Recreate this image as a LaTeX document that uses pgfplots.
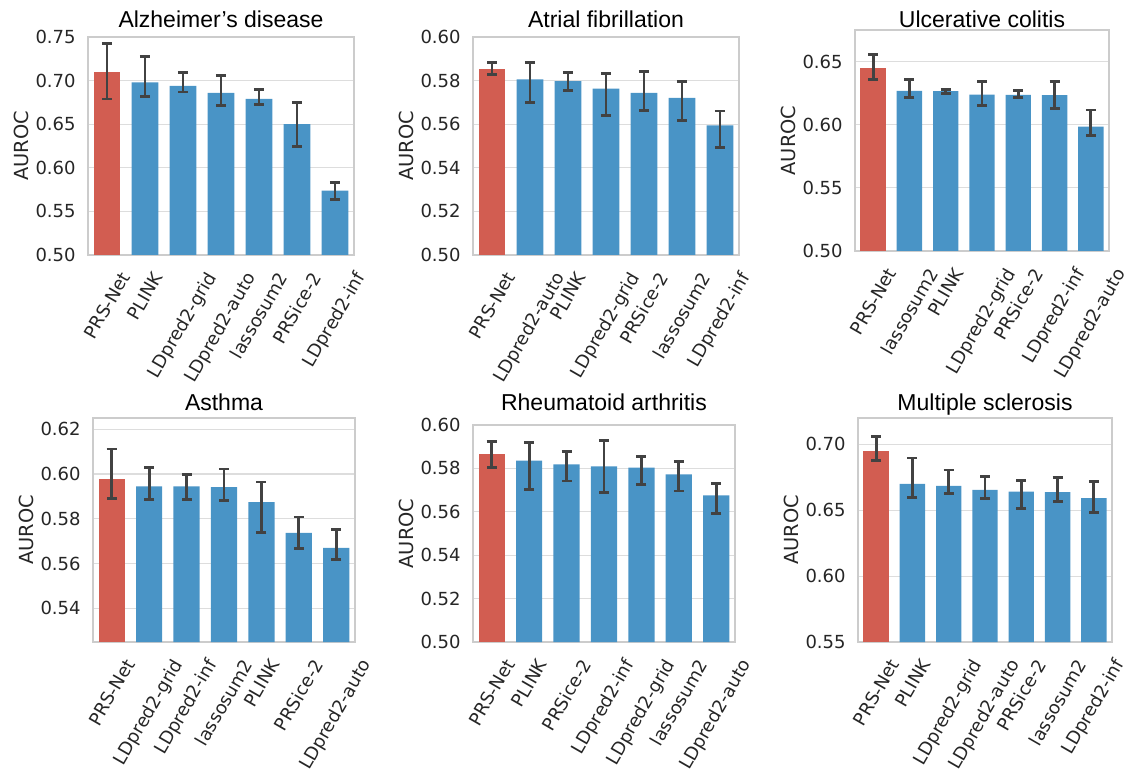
\documentclass[border=0pt]{standalone}
\usepackage{fontspec}
\setmainfont{DejaVu Sans}
\newfontfamily\titlefont{Liberation Sans}
\usepackage{graphicx}
\usepackage{pgfplots}
\usepackage{pgfplotstable}
\pgfplotsset{compat=1.18}
\definecolor{prsred}{RGB}{210,93,81}
\definecolor{prsblue}{RGB}{73,148,198}
\definecolor{errgray}{RGB}{66,66,66}
\definecolor{gridgray}{RGB}{221,221,221}
\definecolor{framegray}{RGB}{204,204,204}
\definecolor{txt}{RGB}{38,38,38}
\newcommand\rl[1]{\rotatebox{60}{#1}}

% x  y  error+  error-
\pgfplotstableread{
x y ep em
0 0.7100 0.0330 0.0310
1 0.6980 0.0300 0.0160
2 0.6940 0.0155 0.0070
3 0.6860 0.0200 0.0150
4 0.6790 0.0110 0.0060
5 0.6500 0.0250 0.0260
6 0.5737 0.0099 0.0097
}\tabAD
\pgfplotstableread{
x y ep em
0 0.5855 0.0027 0.0028
1 0.5806 0.0076 0.0107
2 0.5798 0.0040 0.0042
3 0.5763 0.0071 0.0123
4 0.5744 0.0097 0.0083
5 0.5721 0.0076 0.0103
6 0.5595 0.0066 0.0103
}\tabAF
\pgfplotstableread{
x y ep em
0 0.6453 0.0102 0.0095
1 0.6268 0.0090 0.0055
2 0.6266 0.0016 0.0019
3 0.6239 0.0103 0.0084
4 0.6237 0.0034 0.0021
5 0.6234 0.0111 0.0105
6 0.5984 0.0132 0.0068
}\tabUC
\pgfplotstableread{
x y ep em
0 0.5979 0.0133 0.0090
1 0.5945 0.0083 0.0058
2 0.5945 0.0051 0.0059
3 0.5941 0.0081 0.0059
4 0.5875 0.0089 0.0136
5 0.5737 0.0071 0.0070
6 0.5670 0.0082 0.0050
}\tabAS
\pgfplotstableread{
x y ep em
0 0.5868 0.0055 0.0064
1 0.5836 0.0083 0.0134
2 0.5819 0.0058 0.0077
3 0.5809 0.0119 0.0120
4 0.5804 0.0052 0.0077
5 0.5773 0.0058 0.0077
6 0.5676 0.0054 0.0084
}\tabRA
\pgfplotstableread{
x y ep em
0 0.6950 0.0108 0.0071
1 0.6700 0.0197 0.0101
2 0.6685 0.0121 0.0056
3 0.6655 0.0101 0.0068
4 0.6642 0.0083 0.0126
5 0.6637 0.0109 0.0068
6 0.6592 0.0126 0.0109
}\tabMS

\pgfplotsset{
  panel/.style={
    scale only axis, anchor=south west,
    xmin=-0.5, xmax=6.5, xtick={0,...,6},
    ymajorgrids, major grid style={draw=gridgray, line width=0.55pt},
    axis line style={draw=framegray, line width=0.6pt},
    major tick length=0pt,
    tick label style={font=\fontsize{9}{10}\selectfont, text=txt},
    xticklabel style={anchor=north, inner sep=0pt, yshift=-7.5pt},
    yticklabel style={anchor=east, inner sep=0pt, xshift=-6pt},
    scaled y ticks=false,
    /pgf/number format/fixed, /pgf/number format/fixed zerofill,
    /pgf/number format/precision=2, /pgf/number format/assume math mode=true,
    ylabel=AUROC, ylabel style={font=\fontsize{9.7}{11}\selectfont, text=txt},
    every axis title shift=0pt,
    title style={font=\titlefont\fontsize{11.5}{13}\selectfont, anchor=base, inner sep=0pt},
  },
  barbase/.style={ybar, bar width=0.7, bar shift=0pt, draw=none,
    error bars/y dir=both, error bars/y explicit,
    error bars/error bar style={line width=1.4pt, draw=errgray},
    error bars/error mark options={rotate=90, mark size=2.5pt, line width=1.4pt, draw=errgray}},
  redbar/.style={barbase, fill=prsred, restrict x to domain=-0.5:0.5},
  bluebar/.style={barbase, fill=prsblue, restrict x to domain=0.5:6.5},
}

\begin{document}
\begin{tikzpicture}
\useasboundingbox (0,0) rectangle (563pt,386pt);

% Alzheimer's disease
\begin{axis}[panel, at={(44pt,258.5pt)}, width=133pt, height=109pt,
  ymin=0.5, ymax=0.75, ytick={0.5,0.55,...,0.76},
  title={Alzheimer’s disease}, title style={yshift=4.85pt},
  xticklabels={\rl{PRS-Net},\rl{PLINK},\rl{LDpred2-grid},\rl{LDpred2-auto},\rl{lassosum2},\rl{PRSice-2},\rl{LDpred2-inf}}]
\addplot[redbar] table[x=x, y=y, y error plus=ep, y error minus=em] {\tabAD};
\addplot[bluebar] table[x=x, y=y, y error plus=ep, y error minus=em] {\tabAD};
\end{axis}

% Atrial fibrillation
\begin{axis}[panel, at={(236.5pt,258.5pt)}, width=133pt, height=109pt,
  ymin=0.5, ymax=0.6, ytick={0.5,0.52,0.54,0.56,0.58,0.6},
  title={Atrial fibrillation}, title style={yshift=4.85pt},
  xticklabels={\rl{PRS-Net},\rl{LDpred2-auto},\rl{PLINK},\rl{LDpred2-grid},\rl{PRSice-2},\rl{lassosum2},\rl{LDpred2-inf}}]
\addplot[redbar] table[x=x, y=y, y error plus=ep, y error minus=em] {\tabAF};
\addplot[bluebar] table[x=x, y=y, y error plus=ep, y error minus=em] {\tabAF};
\end{axis}

% Ulcerative colitis
\begin{axis}[panel, at={(427.5pt,260.5pt)}, width=127pt, height=110.5pt,
  ymin=0.5, ymax=0.675, ytick={0.5,0.55,0.6,0.65},
  title={Ulcerative colitis}, title style={yshift=1.35pt},
  xticklabels={\rl{PRS-Net},\rl{lassosum2},\rl{PLINK},\rl{LDpred2-grid},\rl{PRSice-2},\rl{LDpred2-inf},\rl{LDpred2-auto}}]
\addplot[redbar] table[x=x, y=y, y error plus=ep, y error minus=em] {\tabUC};
\addplot[bluebar] table[x=x, y=y, y error plus=ep, y error minus=em] {\tabUC};
\end{axis}

% Asthma
\begin{axis}[panel, at={(46.5pt,65pt)}, width=131pt, height=112pt,
  ymin=0.525, ymax=0.625, ytick={0.54,0.56,0.58,0.6,0.62},
  title={Asthma}, title style={yshift=3.65pt},
  xticklabels={\rl{PRS-Net},\rl{LDpred2-grid},\rl{LDpred2-inf},\rl{lassosum2},\rl{PLINK},\rl{PRSice-2},\rl{LDpred2-auto}}]
\addplot[redbar] table[x=x, y=y, y error plus=ep, y error minus=em] {\tabAS};
\addplot[bluebar] table[x=x, y=y, y error plus=ep, y error minus=em] {\tabAS};
\end{axis}

% Rheumatoid arthritis
\begin{axis}[panel, at={(236.5pt,65pt)}, width=131pt, height=108.5pt,
  ymin=0.5, ymax=0.6, ytick={0.5,0.52,0.54,0.56,0.58,0.6},
  title={Rheumatoid arthritis}, title style={yshift=7.15pt},
  xticklabels={\rl{PRS-Net},\rl{PLINK},\rl{PRSice-2},\rl{LDpred2-inf},\rl{LDpred2-grid},\rl{lassosum2},\rl{LDpred2-auto}}]
\addplot[redbar] table[x=x, y=y, y error plus=ep, y error minus=em] {\tabRA};
\addplot[bluebar] table[x=x, y=y, y error plus=ep, y error minus=em] {\tabRA};
\end{axis}

% Multiple sclerosis
\begin{axis}[panel, at={(429pt,65pt)}, width=127pt, height=112pt,
  ymin=0.55, ymax=0.72, ytick={0.55,0.6,0.65,0.7},
  title={Multiple sclerosis}, title style={yshift=3.65pt},
  xticklabels={\rl{PRS-Net},\rl{PLINK},\rl{LDpred2-grid},\rl{LDpred2-auto},\rl{PRSice-2},\rl{lassosum2},\rl{LDpred2-inf}}]
\addplot[redbar] table[x=x, y=y, y error plus=ep, y error minus=em] {\tabMS};
\addplot[bluebar] table[x=x, y=y, y error plus=ep, y error minus=em] {\tabMS};
\end{axis}
\end{tikzpicture}
\end{document}
